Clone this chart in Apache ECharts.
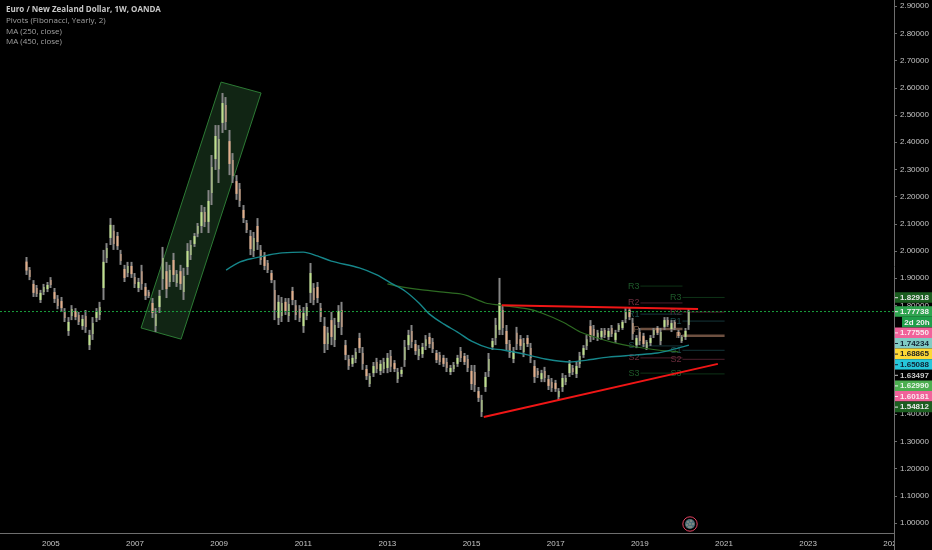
<!DOCTYPE html>
<html><head><meta charset="utf-8">
<style>html,body{margin:0;padding:0;background:#000}#c{width:932px;height:550px}</style>
<script src="https://cdn.jsdelivr.net/npm/echarts@6/dist/echarts.min.js"></script>
</head><body><div id="c"></div>
<script>
const opens=[1.961,1.930,1.879,1.864,1.820,1.849,1.860,1.893,1.849,1.824,
1.816,1.776,1.706,1.761,1.779,1.765,1.724,1.761,1.654,1.695,
1.754,1.765,1.864,1.974,2.048,2.074,2.055,1.989,1.934,1.919,
1.945,1.904,1.864,1.926,1.868,1.849,1.809,1.724,1.794,1.897,
1.926,1.886,1.967,1.882,1.926,1.849,1.941,1.985,2.026,2.063,
2.092,2.143,2.107,2.213,2.338,2.301,2.471,2.537,2.404,2.335,
2.257,2.228,2.151,2.103,2.055,2.000,2.092,2.004,1.982,1.956,
1.919,1.857,1.754,1.761,1.813,1.761,1.853,1.801,1.787,1.724,
1.761,1.846,1.864,1.868,1.790,1.724,1.658,1.746,1.673,1.739,
1.783,1.654,1.603,1.585,1.603,1.680,1.625,1.566,1.511,1.551,
1.592,1.559,1.566,1.570,1.614,1.588,1.529,1.548,1.599,1.654,
1.706,1.658,1.614,1.621,1.651,1.684,1.665,1.625,1.618,1.607,
1.592,1.555,1.566,1.585,1.632,1.614,1.603,1.559,1.555,1.485,
1.408,1.500,1.559,1.647,1.680,1.710,1.783,1.706,1.658,1.603,
1.699,1.676,1.629,1.680,1.643,1.577,1.559,1.529,1.559,1.529,
1.518,1.515,1.463,1.500,1.518,1.551,1.570,1.548,1.585,1.618,
1.651,1.724,1.713,1.680,1.684,1.710,1.684,1.717,1.673,1.710,
1.717,1.750,1.783,1.735,1.654,1.702,1.688,1.643,1.662,1.691,
1.717,1.669,1.721,1.746,1.713,1.739,1.702,1.669,1.684,1.728];
const closes=[1.928,1.904,1.846,1.842,1.846,1.868,1.875,1.875,1.824,1.798,
1.790,1.754,1.739,1.787,1.757,1.739,1.750,1.721,1.691,1.735,
1.776,1.794,1.960,2.011,2.096,2.026,2.018,1.963,1.901,1.945,
1.915,1.879,1.886,1.879,1.835,1.835,1.772,1.768,1.835,1.974,
1.860,1.930,1.912,1.915,1.879,1.908,2.000,2.022,2.055,2.092,
2.143,2.107,2.184,2.309,2.423,2.412,2.544,2.474,2.320,2.276,
2.210,2.184,2.121,2.077,2.007,2.048,2.033,1.967,1.945,1.930,
1.893,1.783,1.813,1.809,1.779,1.805,1.820,1.765,1.754,1.772,
1.794,1.919,1.820,1.827,1.757,1.658,1.699,1.684,1.728,1.779,
1.721,1.618,1.577,1.607,1.629,1.643,1.585,1.540,1.540,1.577,
1.566,1.585,1.592,1.607,1.574,1.566,1.555,1.563,1.647,1.691,
1.665,1.632,1.640,1.647,1.676,1.658,1.640,1.599,1.592,1.585,
1.570,1.570,1.581,1.607,1.607,1.592,1.570,1.511,1.507,1.460,
1.452,1.537,1.603,1.669,1.728,1.809,1.717,1.658,1.625,1.632,
1.658,1.651,1.662,1.658,1.607,1.537,1.544,1.551,1.533,1.504,
1.496,1.493,1.485,1.533,1.533,1.585,1.555,1.577,1.614,1.643,
1.676,1.684,1.688,1.699,1.706,1.691,1.706,1.695,1.699,1.728,
1.739,1.776,1.757,1.695,1.680,1.669,1.658,1.665,1.680,1.710,
1.699,1.702,1.746,1.728,1.735,1.717,1.688,1.684,1.706,1.777];
const highs=[1.978,1.941,1.893,1.875,1.857,1.879,1.886,1.904,1.864,1.838,
1.831,1.790,1.757,1.801,1.790,1.776,1.765,1.783,1.710,1.757,
1.790,1.813,2.004,2.029,2.121,2.096,2.070,2.004,1.949,1.960,
1.960,1.919,1.901,1.949,1.882,1.857,1.827,1.790,1.857,2.015,
1.960,1.949,1.993,1.930,1.949,1.938,2.029,2.040,2.066,2.103,
2.169,2.162,2.224,2.353,2.463,2.463,2.581,2.566,2.445,2.360,
2.279,2.250,2.169,2.114,2.077,2.070,2.121,2.022,1.996,1.967,
1.930,1.893,1.838,1.831,1.827,1.827,1.868,1.820,1.801,1.794,
1.809,1.956,1.882,1.886,1.809,1.757,1.721,1.776,1.754,1.801,
1.813,1.673,1.618,1.618,1.643,1.699,1.647,1.581,1.551,1.592,
1.607,1.599,1.607,1.625,1.636,1.599,1.570,1.574,1.673,1.710,
1.728,1.673,1.654,1.662,1.691,1.699,1.680,1.636,1.629,1.618,
1.607,1.581,1.592,1.618,1.647,1.625,1.618,1.581,1.581,1.500,
1.471,1.555,1.625,1.680,1.754,1.901,1.801,1.728,1.673,1.647,
1.721,1.691,1.680,1.691,1.662,1.599,1.570,1.563,1.574,1.544,
1.533,1.526,1.496,1.551,1.544,1.599,1.581,1.592,1.629,1.654,
1.691,1.746,1.728,1.710,1.717,1.717,1.717,1.728,1.710,1.735,
1.746,1.790,1.794,1.754,1.691,1.717,1.699,1.673,1.691,1.717,
1.724,1.717,1.757,1.757,1.746,1.746,1.710,1.691,1.717,1.790];
const lows=[1.912,1.893,1.831,1.831,1.809,1.838,1.849,1.864,1.809,1.786,
1.776,1.739,1.688,1.746,1.746,1.728,1.710,1.699,1.636,1.673,
1.739,1.746,1.820,1.956,2.022,2.004,2.004,1.949,1.886,1.904,
1.901,1.864,1.849,1.857,1.820,1.827,1.754,1.702,1.772,1.857,
1.827,1.868,1.886,1.868,1.857,1.820,1.912,1.967,2.015,2.051,
2.066,2.088,2.066,2.169,2.298,2.250,2.434,2.445,2.279,2.250,
2.188,2.162,2.103,2.066,1.985,1.978,2.004,1.949,1.930,1.919,
1.882,1.746,1.728,1.739,1.765,1.739,1.801,1.746,1.739,1.699,
1.746,1.809,1.801,1.809,1.739,1.625,1.636,1.654,1.647,1.717,
1.691,1.599,1.563,1.574,1.588,1.625,1.563,1.526,1.500,1.537,
1.551,1.544,1.551,1.551,1.555,1.555,1.515,1.537,1.574,1.636,
1.643,1.618,1.599,1.607,1.636,1.643,1.625,1.588,1.581,1.574,
1.555,1.544,1.555,1.574,1.592,1.581,1.555,1.489,1.482,1.445,
1.390,1.482,1.537,1.636,1.654,1.691,1.691,1.636,1.607,1.588,
1.636,1.636,1.610,1.647,1.588,1.515,1.533,1.518,1.518,1.489,
1.482,1.482,1.452,1.482,1.507,1.537,1.544,1.533,1.570,1.607,
1.636,1.665,1.673,1.669,1.673,1.680,1.673,1.684,1.662,1.702,
1.710,1.735,1.746,1.673,1.643,1.654,1.647,1.636,1.651,1.680,
1.691,1.654,1.710,1.721,1.702,1.710,1.680,1.662,1.673,1.710];

const firstMonthIdx=7; // candles start 2004-06, axis starts 2003-11
const ma450At=[57,61,65,69,73,79,83,87,95,100,104,108,112,115,119,123,127,132,136,143,148,155,160,166,174,180,185,189];
const ma450Val=[1.930,1.960,1.974,1.985,1.993,1.996,1.982,1.963,1.938,1.912,1.882,1.853,1.809,1.768,1.732,1.702,1.669,1.643,1.636,1.618,1.603,1.592,1.599,1.610,1.618,1.625,1.640,1.654];
const ma250At=[103,107,113,119,124,126,131,135,143,147,153,158,162,167,174,180,186];
const ma250Val=[1.879,1.868,1.857,1.849,1.842,1.835,1.809,1.801,1.787,1.772,1.739,1.702,1.684,1.665,1.647,1.636,1.629];

const yearTicks=['2005','2007','2009','2011','2013','2015','2017','2019','2021','2023','2025'];
const priceTicks=[1.0,1.1,1.2,1.3,1.4,1.8,1.9,2.0,2.1,2.2,2.3,2.4,2.5,2.6,2.7,2.8,2.9];

const channelYears=[2009.04,2009.99,2008.09,2007.14];
const channelPrices=[2.621,2.581,1.676,1.717];
const topLineYears=[2015.71,2020.37], topLinePrices=[1.801,1.787];
const lowLineYears=[2015.28,2020.84], lowLinePrices=[1.390,1.585];
const lastPrice=1.77738;

const pivotNames=['R3','R2','R1','P','S1','S2','S3'];
const pivots2019=[1.871,1.809,1.768,1.713,1.651,1.607,1.551];
const pivots2020=[1.82918,1.77550,1.74234,1.68865,1.63497,1.60181,1.54812];
const pivotLine=['#0e3316','#4a1e2c','#15363a','#6e5040','#15363a','#4a1e2c','#0e3316'];
const pivotText=['#1e5a2a','#6a2c3c','#1f4f52','#7a5a46','#1f4f52','#6a2c3c','#1e5a2a'];
const pivotWidth=[1,1,1,2.5,1,1,1];

const legendLines=['Euro / New Zealand Dollar, 1W, OANDA','Pivots (Fibonacci, Yearly, 2)','MA (250, close)','MA (450, close)'];
const tagTexts=['1.82918','1.77738','2d 20h','1.77550','1.74234','1.68865','1.65088','1.63497','1.62990','1.60181','1.54812'];
const tagFill=['#1b5e20','#2ea44f','#1f9e4a','#f0629a','#80cbc4','#fdd835','#26c6da','#000000','#4caf50','#f0629a','#1b5e20'];
const tagInk=['#e8e8e8','#f2f2f2','#f2f2f2','#fbe9ef','#123','#222','#123','#c8c8c8','#e8f5e9','#fbe9ef','#e8e8e8'];

const allMonths=[];
for(let y=2003,m=11;allMonths.length<255;){allMonths.push(y+'-'+String(m).padStart(2,'0'));m++;if(m>12){m=1;y++;}}
const isTick=(i,v)=>v.slice(5)==='01'&&yearTicks.includes(v.slice(0,4));
const month=i=>allMonths[i+firstMonthIdx];

const wickRows=opens.map((o,i)=>[month(i),o,closes[i],lows[i],highs[i]]);
const bodyRows=opens.map((o,i)=>[month(i),o,closes[i],Math.min(o,closes[i]),Math.max(o,closes[i])]);
const YMIN=0.96324,YMAX=2.92279,XMIN=2003.789,XMAX=2025.024;

const pivotRows=[];
pivotNames.forEach((n,k)=>{pivotRows.push([2019,2020,pivots2019[k],k]);pivotRows.push([2020,2021,pivots2020[k],k]);});

const FONT='"Liberation Sans",Arial,sans-serif';
const graphics=[];
legendLines.forEach((t,i)=>graphics.push({type:'text',z:120,x:6,y:[10,20.8,31.3,41.8][i],style:{text:t,fill:i?'#a0a0a0':'#c8c8c8',font:(i?'normal ':'bold ')+'8px "Open Sans",'+FONT,textVerticalAlign:'middle'}}));
graphics.push({type:'rect',z:110,shape:{x:895,y:534,width:37,height:16},style:{fill:'#000'}});
graphics.push({type:'line',z:111,shape:{x1:894.5,y1:533,x2:894.5,y2:550},style:{stroke:'#6e6e6e',lineWidth:1}});
const tagY=[292.2,306.2,316.8,327.4,338,348.6,359.2,369.8,380.4,391,401.6];
tagTexts.forEach((t,i)=>{
  const x=i===2?902:895;
  graphics.push({type:'rect',z:112,shape:{x:x,y:tagY[i],width:932-x,height:10.6},style:{fill:tagFill[i]}});
  if(i!==2)graphics.push({type:'rect',z:113,shape:{x:895,y:tagY[i]+5,width:3,height:1},style:{fill:tagInk[i]}});
  graphics.push({type:'text',z:114,x:i===2?917:914.5,y:tagY[i]+5.5,style:{text:t,fill:tagInk[i],font:'bold 8px '+FONT,textAlign:'center',textVerticalAlign:'middle'}});
});
graphics.push({type:'circle',z:115,shape:{cx:690,cy:524,r:7.2},style:{fill:'#000',stroke:'#e0405f',lineWidth:1}});
graphics.push({type:'circle',z:116,shape:{cx:690,cy:524,r:5},style:{fill:'#50707a'}});
[[-2,-2],[1,-3],[3,0],[-3,1],[0,0],[1,3],[-1,3]].forEach(d=>graphics.push({type:'circle',z:117,shape:{cx:690+d[0],cy:524+d[1],r:0.7},style:{fill:'#c9b08a'}}));

const chart=echarts.init(document.getElementById('c'),null,{renderer:'canvas'});
chart.setOption({
  animation:false,backgroundColor:'#000',
  grid:{left:0,top:0,width:894,height:533,containLabel:false},
  xAxis:[
    {type:'category',data:allMonths,boundaryGap:true,
      axisLine:{lineStyle:{color:'#6e6e6e'}},
      axisTick:{interval:isTick,alignWithLabel:true,length:3,lineStyle:{color:'#6e6e6e'}},
      axisLabel:{interval:isTick,formatter:v=>v.slice(0,4),color:'#c4c4c4',fontSize:8,fontFamily:FONT,margin:7},
      splitLine:{show:false}},
    {type:'value',show:false,min:XMIN,max:XMAX,splitLine:{show:false}}
  ],
  yAxis:{type:'value',position:'right',min:YMIN,max:YMAX,
    axisLine:{show:true,lineStyle:{color:'#6e6e6e'}},
    axisTick:{show:true,length:3,customValues:priceTicks,lineStyle:{color:'#6e6e6e'}},
    axisLabel:{customValues:priceTicks,formatter:v=>v.toFixed(5),color:'#c4c4c4',fontSize:8,fontFamily:FONT,margin:6},
    splitLine:{show:false}},
  graphic:graphics,
  series:[
    {type:'custom',xAxisIndex:1,z:1,silent:true,
      data:channelYears.map((x,i)=>[x,channelPrices[i]]),encode:{x:0,y:1},
      renderItem:(p,api)=>p.dataIndex?null:({type:'polygon',shape:{points:channelYears.map((x,i)=>api.coord([x,channelPrices[i]]))},style:{fill:'#112514',stroke:'#2c7a34',lineWidth:1}})},
    {type:'custom',xAxisIndex:1,z:2,silent:true,
      data:pivotRows.map(r=>[r[0],r[2],r[1]]),encode:{x:0,y:1},
      renderItem:(p,api)=>{const r=pivotRows[p.dataIndex],a=api.coord([r[0],r[2]]),b=api.coord([r[1],r[2]]),k=r[3];
        return {type:'group',children:[
          {type:'line',shape:{x1:a[0],y1:a[1],x2:b[0],y2:b[1]},style:{stroke:pivotLine[k],lineWidth:pivotWidth[k]}},
          {type:'text',style:{x:a[0]-1,y:a[1],text:pivotNames[k],fill:pivotText[k],font:'9px '+FONT,textAlign:'right',textVerticalAlign:'middle'}}]};}},
    {name:'wick',type:'candlestick',z:3,barWidth:1,data:wickRows,encode:{x:0,y:[1,2,3,4]},silent:true,
      itemStyle:{color:'#858585',color0:'#858585',borderColor:'#858585',borderColor0:'#858585',borderWidth:2}},
    {name:'body',type:'candlestick',z:4,barWidth:2,data:bodyRows,encode:{x:0,y:[1,2,3,4]},silent:true,
      itemStyle:{color:'#bfe08c',color0:'#e2ae8a',borderColor:'#bfe08c',borderColor0:'#e2ae8a',borderWidth:0}},
    {name:'MA 250',type:'line',z:5,smooth:0.3,symbol:'none',silent:true,lineStyle:{color:'#2d6a22',width:1.2},
      data:ma250At.map((i,k)=>[month(i),ma250Val[k]])},
    {name:'MA 450',type:'line',z:5,smooth:0.3,symbol:'none',silent:true,lineStyle:{color:'#16868a',width:1.4},
      data:ma450At.map((i,k)=>[month(i),ma450Val[k]])},
    {name:'last',type:'line',xAxisIndex:1,z:6,symbol:'none',silent:true,lineStyle:{color:'#1aa03c',width:1,type:[2,2]},
      data:[[XMIN,lastPrice],[XMAX,lastPrice]]},
    {name:'resistance',type:'line',xAxisIndex:1,z:7,symbol:'none',silent:true,lineStyle:{color:'#f01616',width:2},
      data:topLineYears.map((x,i)=>[x,topLinePrices[i]])},
    {name:'support',type:'line',xAxisIndex:1,z:7,symbol:'none',silent:true,lineStyle:{color:'#f01616',width:2},
      data:lowLineYears.map((x,i)=>[x,lowLinePrices[i]])}
  ]
});
</script></body></html>
